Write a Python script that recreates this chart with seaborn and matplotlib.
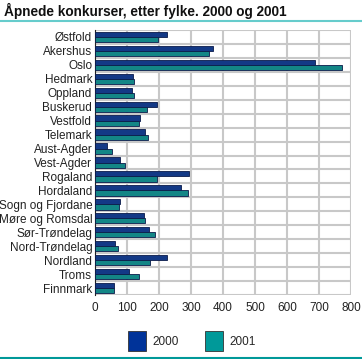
import matplotlib
matplotlib.use("Agg")
import matplotlib.pyplot as plt
import seaborn as sns
import pandas as pd
from matplotlib.patches import Patch
from matplotlib.lines import Line2D

counties = ["Østfold", "Akershus", "Oslo", "Hedmark", "Oppland", "Buskerud",
            "Vestfold", "Telemark", "Aust-Agder", "Vest-Agder", "Rogaland",
            "Hordaland", "Sogn og Fjordane", "Møre og Romsdal", "Sør-Trøndelag",
            "Nord-Trøndelag", "Nordland", "Troms", "Finnmark"]
v2000 = [226, 370, 686, 120, 117, 195, 142, 157, 38, 79, 293, 269, 79, 154, 170, 64, 226, 107, 60]
v2001 = [198, 357, 773, 123, 123, 163, 138, 167, 54, 95, 195, 290, 76, 157, 188, 73, 173, 138, 60]
years = ["2000", "2001"]
colors = ["#003399", "#009999"]
title = "Åpnede konkurser, etter fylke. 2000 og 2001"

df = pd.DataFrame({
    "fylke": counties * 2,
    "antall": v2000 + v2001,
    "år": [years[0]] * len(counties) + [years[1]] * len(counties),
})

sns.set_style("white")
plt.rcParams["font.family"] = ["Liberation Sans", "DejaVu Sans"]

fig = plt.figure(figsize=(3.62, 3.59), dpi=100)
ax = fig.add_axes([95 / 362, 1 - 295 / 359, 256 / 362, 265 / 359])

sns.barplot(data=df, x="antall", y="fylke", hue="år", orient="h",
            palette=colors, order=counties, hue_order=years,
            width=0.74, edgecolor="#0a1a4a", linewidth=0.6,
            legend=False, ax=ax, zorder=3)

ax.set_xlim(0, 800)
ax.set_xticks(range(0, 801, 100))
ax.grid(axis="x", color="#c8c8c8", linewidth=1.5, zorder=0)
ax.set_axisbelow(True)
for i in range(len(counties) + 1):
    ax.axhline(i - 0.5, color="#c8c8c8", linewidth=1.5, zorder=0)
ax.set_ylim(len(counties) - 0.5, -0.5)
for s in ax.spines.values():
    s.set_visible(False)
ax.spines["left"].set_visible(True)
ax.spines["left"].set_color("#222222")
ax.spines["left"].set_linewidth(0.8)
ax.set_xlabel("")
ax.set_ylabel("")
ax.tick_params(axis="both", length=0, labelsize=8.5, colors="#222222", pad=2)
ax.tick_params(axis="x", pad=5)

fig.text(4 / 362, 1 - 11 / 359, title, fontsize=9.8, fontweight="bold",
         ha="left", va="center", color="#111111")
fig.add_artist(Line2D([0, 1], [1 - 21 / 359, 1 - 21 / 359], color="#66cccc",
                      linewidth=1.5, transform=fig.transFigure))
fig.add_artist(Line2D([0, 1], [1 - 357.5 / 359, 1 - 357.5 / 359], color="#009999",
                      linewidth=1.5, transform=fig.transFigure))

handles = [Patch(facecolor=c, edgecolor="#333333", linewidth=0.6, label=y)
           for c, y in zip(colors, years)]
fig.legend(handles=handles, loc="center", bbox_to_anchor=(192 / 362, 1 - 341 / 359),
           ncol=2, frameon=False, fontsize=8.5, handlelength=1.5, handleheight=2.2,
           columnspacing=2.2, handletextpad=0.6)

fig.savefig("out.png", dpi=100)
